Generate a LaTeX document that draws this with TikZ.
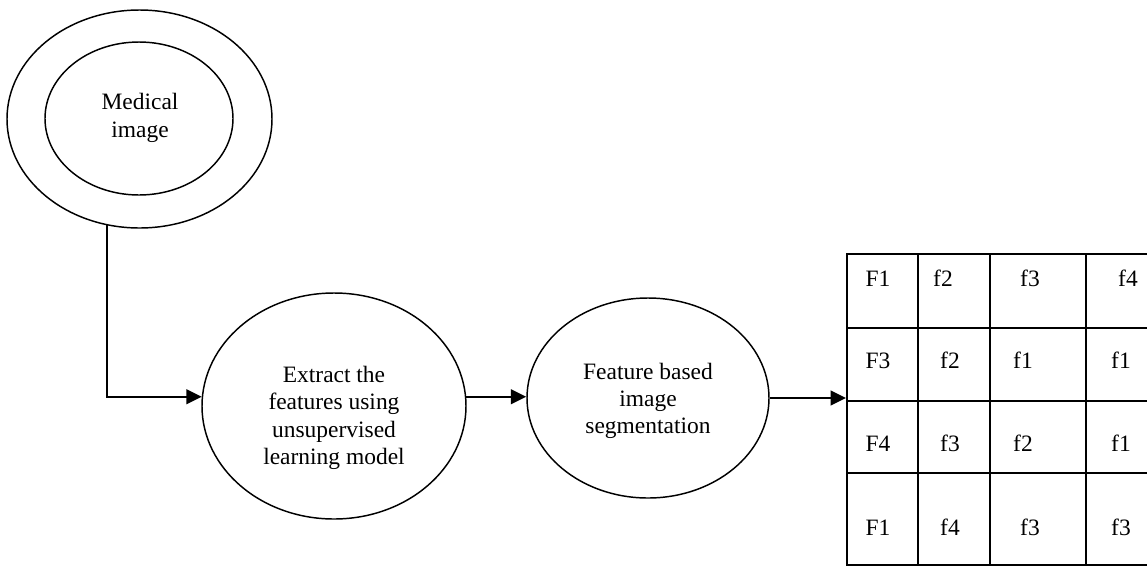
\documentclass[tikz,border=0pt]{standalone}
\usepackage{fontspec}
\setmainfont{Liberation Serif}
\usetikzlibrary{shapes.geometric,arrows.meta}
\tikzset{
  ell/.style={draw, ellipse, inner sep=0pt, line width=1.1pt},
  lbl/.style={align=center, inner sep=0pt, font=\fontsize{17.6}{20.5}\selectfont},
  cell/.style={anchor=base, inner sep=0pt, font=\fontsize{17.6}{20.5}\selectfont},
  arr/.style={line width=1.5pt, -{Triangle[length=11.5pt,width=11pt]}},
  gridline/.style={line width=1.5pt}
}
\begin{document}
\begin{tikzpicture}[x=0.75pt,y=-0.75pt]
\useasboundingbox (0,0) rectangle (1147,565);
% ellipses
\node[ell, minimum width=265*0.75pt, minimum height=218*0.75pt] (outer) at (139.5,119) {};
\node[ell, minimum width=188*0.75pt, minimum height=153*0.75pt] (inner) at (139,118.5) {};
\node[lbl] (medt) at (140,118) {Medical\\image};
\node[ell, minimum width=264*0.75pt, minimum height=226*0.75pt] (extract) at (334,406) {};
\node[lbl] (extt) at (334,418) {Extract the\\features using\\unsupervised\\learning model};
\node[ell, minimum width=242*0.75pt, minimum height=200*0.75pt] (feature) at (648,398) {};
\node[lbl] (feat) at (648,401) {Feature based\\image\\segmentation};
% grid
\node[draw, gridline, anchor=north west, inner sep=0pt,
      minimum width=306*0.75pt, minimum height=311*0.75pt] (grid) at (846,253) {};
\foreach \x in {918,990,1086} \draw[gridline] (\x,253) -- (\x,564);
\foreach \y in {328,401,473} \draw[gridline] (846,\y) -- (1152,\y);
% cell texts
\node[cell] (c11) at (878,286) {F1};
\node[cell] (c12) at (943,286) {f2};
\node[cell] (c13) at (1030,286) {f3};
\node[cell] (c14) at (1128,286) {f4};
\node[cell] (c21) at (878,368) {F3};
\node[cell] (c22) at (950,368) {f2};
\node[cell] (c23) at (1023,368) {f1};
\node[cell] (c24) at (1121,368) {f1};
\node[cell] (c31) at (878,451) {F4};
\node[cell] (c32) at (950,451) {f3};
\node[cell] (c33) at (1023,451) {f2};
\node[cell] (c34) at (1121,451) {f1};
\node[cell] (c41) at (878,535) {F1};
\node[cell] (c42) at (950,535) {f4};
\node[cell] (c43) at (1030,535) {f3};
\node[cell] (c44) at (1121,535) {f3};
% connectors
\draw[arr] (outer.253) |- (extract.176);
\draw[arr] (extract.4) -- (extract.4 -| feature.west);
\draw[arr] (feature.east) -- (feature.east -| grid.west);
\end{tikzpicture}
\end{document}
